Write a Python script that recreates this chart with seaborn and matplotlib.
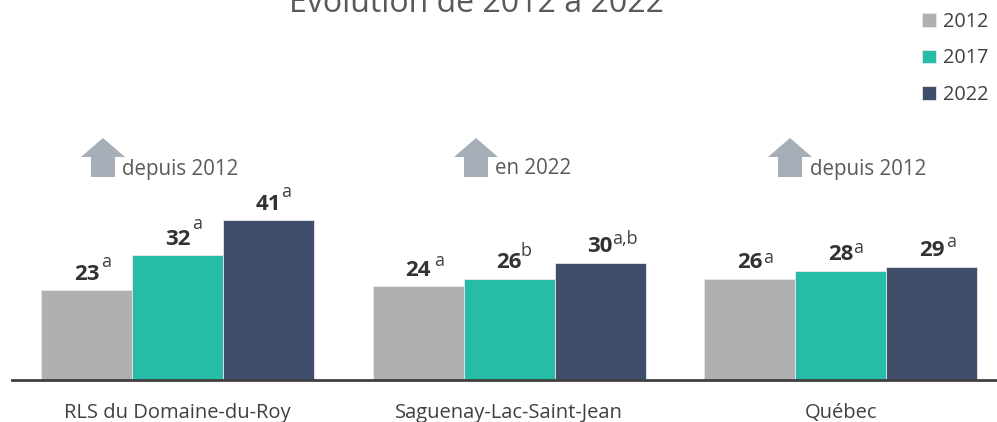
import pandas as pd
import matplotlib
matplotlib.use("Agg")
import matplotlib.pyplot as plt
from matplotlib.patches import Polygon
import seaborn as sns

# Données
regions = ["RLS du Domaine-du-Roy", "Saguenay-Lac-Saint-Jean", "Québec"]
annees = ["2012", "2017", "2022"]
valeurs_2012 = [23, 24, 26]
valeurs_2017 = [32, 26, 28]
valeurs_2022 = [41, 30, 29]
exposants_2012 = ["a", "a", "a"]
exposants_2017 = ["a", "b", "a"]
exposants_2022 = ["a", "a,b", "a"]
fleches = ["depuis 2012", "en 2022", "depuis 2012"]
titre = "Évolution de 2012 à 2022"

couleurs = ["#B0B0B0", "#26BCA8", "#404D6B"]

data = pd.DataFrame({
    "region": regions * 3,
    "annee": [a for a in annees for _ in regions],
    "valeur": valeurs_2012 + valeurs_2017 + valeurs_2022,
})

sns.set_theme(style="white")
plt.rcParams["font.family"] = ["Open Sans", "DejaVu Sans"]

W, H = 997, 422
fig = plt.figure(figsize=(W / 100, H / 100), dpi=100)
ax = fig.add_axes([12 / W, (H - 380) / H, 985 / W, 380 / H])

sns.barplot(data=data, x="region", y="valeur", hue="annee", palette=couleurs,
            width=0.824, gap=0, saturation=1, edgecolor="#E8E8E8", linewidth=0.6, ax=ax)

ax.set_xlim(-0.5, 2.472)
ax.set_ylim(0, 380 / 3.9)
ax.set_xlabel("")
ax.set_ylabel("")
ax.set_yticks([])
ax.tick_params(axis="x", length=0, pad=16.5, labelsize=14.5, labelcolor="#404040")
for s in ["top", "left", "right"]:
    ax.spines[s].set_visible(False)
ax.spines["bottom"].set_color("#404040")
ax.spines["bottom"].set_linewidth(2)

# Décalages des exposants en pixels par rapport au haut de la barre (une ligne par région)
decal_exp = [
    [(19, 28), (19, 31), (17, 28)],
    [(21, 25), (17, 28), (25, 24)],
    [(19, 21), (18, 23), (20, 25)],
]
exposants = [exposants_2012, exposants_2017, exposants_2022]

for i in range(3):
    for j, barre in enumerate(ax.containers[i]):
        x = barre.get_x() + barre.get_width() / 2
        y = barre.get_height()
        ax.annotate(str(int(y)), (x, y), xytext=(0, 16), textcoords="offset pixels",
                    ha="center", va="center", fontsize=16, fontweight="bold", color="#333333")
        dx, dy = decal_exp[j][i]
        ax.annotate(exposants[i][j], (x, y), xytext=(dx, dy), textcoords="offset pixels",
                    ha="center", va="center", fontsize=13, color="#404040")

# Flèches vers le haut et texte
def fleche(cx):
    pts = [(cx - 22, 157), (cx, 138), (cx + 22, 157), (cx + 12, 157),
           (cx + 12, 177), (cx - 12, 177), (cx - 12, 157)]
    fig.add_artist(Polygon([(px / W, 1 - py / H) for px, py in pts], closed=True,
                           facecolor="#A6AEB8", edgecolor="none",
                           transform=fig.transFigure))

for cx, tx, txt in zip([103, 476, 790], [122, 495, 810], fleches):
    fleche(cx)
    fig.text(tx / W, 1 - 169 / H, txt, ha="left", va="center", fontsize=14.8, color="#595959")

fig.text(476 / W, 1 - 4 / H, titre, ha="center", va="center", fontsize=23, color="#595959")

sns.move_legend(ax, "upper right", bbox_to_anchor=(990 / 985 - 13 / 985, (380 - 12) / 380), title=None,
                frameon=False, fontsize=14.3, labelspacing=0.83, handlelength=0.7, handleheight=0.7,
                handletextpad=0.4, borderaxespad=0, borderpad=0)
for t in ax.get_legend().get_texts():
    t.set_color("#404040")

fig.savefig("out.png", dpi=100)
